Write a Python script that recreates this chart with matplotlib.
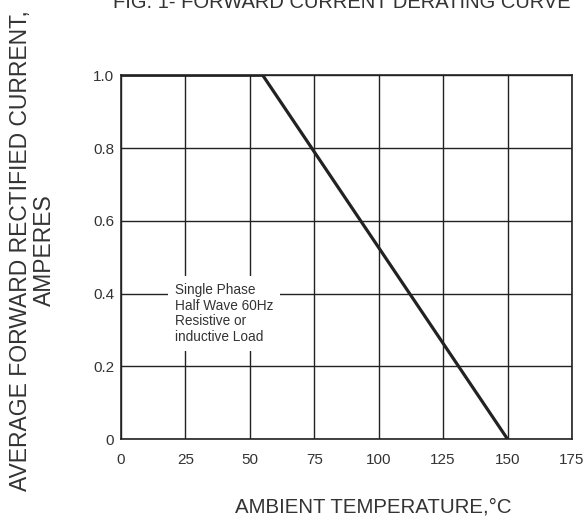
import matplotlib
matplotlib.use("Agg")
import matplotlib.pyplot as plt

plt.rcParams["font.family"] = ["Liberation Sans", "DejaVu Sans"]

# derating curve (temperature in C, current in A)
temp = [0, 55, 150]
current = [1.0, 1.0, 0.0]

x_ticks = [0, 25, 50, 75, 100, 125, 150, 175]
y_ticks = [0, 0.2, 0.4, 0.6, 0.8, 1.0]
y_tick_labels = ["0", "0.2", "0.4", "0.6", "0.8", "1.0"]

note = "Single Phase\nHalf Wave 60Hz\nResistive or\ninductive Load"

ink = "#222222"
txt = "#333333"

fig = plt.figure(figsize=(5.86, 5.19), dpi=100)
ax = fig.add_axes([0.2065, 0.154, 0.7695, 0.701])

ax.plot(temp, current, color=ink, lw=2.3, solid_capstyle="butt", zorder=3)

ax.set_xlim(0, 175)
ax.set_ylim(0, 1.0)
ax.set_xticks(x_ticks)
ax.set_yticks(y_ticks)
ax.set_yticklabels(y_tick_labels)
ax.grid(True, color=ink, lw=1.0)
ax.tick_params(length=0, labelsize=11, colors=txt)
ax.tick_params(axis="x", pad=10)
ax.tick_params(axis="y", pad=5)
for s in ax.spines.values():
    s.set_color(ink)
    s.set_linewidth(1.2)

# note box sits on the 0.4 grid line
ax.text(21.0, 0.345, note, fontsize=9.8, color=txt, va="center", ha="left",
        linespacing=1.15,
        bbox=dict(facecolor="white", edgecolor="none", pad=5), zorder=4)

fig.text(0.637, 0.0116, "AMBIENT TEMPERATURE,°C", ha="center", va="baseline",
         fontsize=14.7, color=txt)
fig.text(0.056, 0.518, "AVERAGE FORWARD RECTIFIED CURRENT,\nAMPERES", rotation=90,
         ha="center", va="center", fontsize=16.5, color=txt, linespacing=1.05)
fig.text(0.973, 0.985, "FIG. 1- FORWARD CURRENT DERATING CURVE", ha="right",
         va="baseline", fontsize=14.5, color=txt)

fig.savefig("out.png", dpi=100)
